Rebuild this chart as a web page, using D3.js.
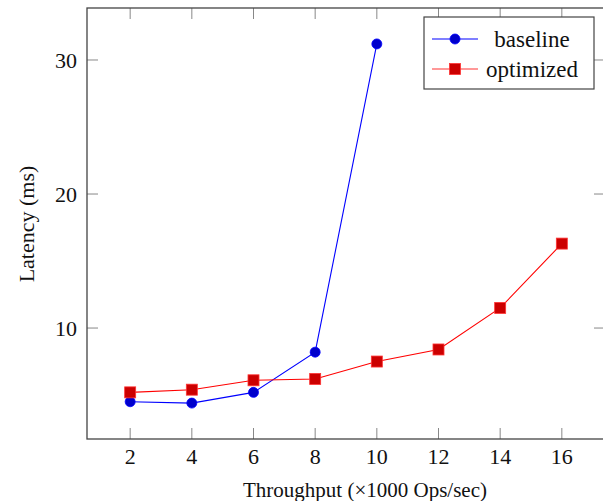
<!DOCTYPE html>
<html>
<head>
<meta charset="utf-8">
<script src="https://cdn.jsdelivr.net/npm/d3@7"></script>
<style>
  body { margin: 0; background: #fff; }
  svg text { font-family: "Liberation Serif", "DejaVu Serif", serif; fill: #111; }
</style>
</head>
<body>
<svg id="chart" width="603" height="501"></svg>
<script>
// Data
const throughput = [2, 4, 6, 8, 10, 12, 14, 16];
const baseline = [4.5, 4.4, 5.2, 8.2, 31.2];
const optimized = [5.2, 5.4, 6.1, 6.2, 7.5, 8.4, 11.5, 16.3];
const xTicks = [2, 4, 6, 8, 10, 12, 14, 16];
const yTicks = [10, 20, 30];
const seriesNames = ["baseline", "optimized"];

const margin = { top: 8, right: -2, bottom: 62, left: 87 };
const width = 603 - margin.left - margin.right;
const height = 501 - margin.top - margin.bottom;

const svg = d3.select("#chart");
const g = svg.append("g").attr("transform", `translate(${margin.left},${margin.top})`);

const x = d3.scaleLinear().domain([0.6, 17.4]).range([0, width]);
const y = d3.scaleLinear().domain([1.72, 33.88]).range([height, 0]);

// tick marks (inside, on all four sides)
const tickLen = 11;
xTicks.forEach(t => {
    g.append("line").attr("x1", x(t)).attr("x2", x(t)).attr("y1", height).attr("y2", height - tickLen)
        .attr("stroke", "#888").attr("stroke-width", 1);
    g.append("line").attr("x1", x(t)).attr("x2", x(t)).attr("y1", 0).attr("y2", tickLen)
        .attr("stroke", "#888").attr("stroke-width", 1);
    g.append("text").attr("x", x(t)).attr("y", height + 25)
        .attr("text-anchor", "middle").style("font-size", "22px").text(t);
});
yTicks.forEach(t => {
    g.append("line").attr("x1", 0).attr("x2", tickLen).attr("y1", y(t)).attr("y2", y(t))
        .attr("stroke", "#888").attr("stroke-width", 1);
    g.append("line").attr("x1", width).attr("x2", width - tickLen).attr("y1", y(t)).attr("y2", y(t))
        .attr("stroke", "#888").attr("stroke-width", 1);
    g.append("text").attr("x", -10).attr("y", y(t)).attr("dy", "0.35em")
        .attr("text-anchor", "end").style("font-size", "22px").text(t);
});

// frame
g.append("rect").attr("x", 0).attr("y", 0).attr("width", width).attr("height", height)
    .attr("fill", "none").attr("stroke", "#444").attr("stroke-width", 1.3);

const line = d3.line().x(d => x(d[0])).y(d => y(d[1]));

// baseline series
const basePts = baseline.map((v, i) => [throughput[i], v]);
g.append("path").datum(basePts).attr("d", line)
    .attr("fill", "none").attr("stroke", "#0000ff").attr("stroke-width", 1.1);
g.selectAll(".base").data(basePts).enter().append("circle")
    .attr("cx", d => x(d[0])).attr("cy", d => y(d[1])).attr("r", 5)
    .attr("fill", "#0000cc").attr("stroke", "#0000ff").attr("stroke-width", 0.8);

// optimized series
const optPts = optimized.map((v, i) => [throughput[i], v]);
g.append("path").datum(optPts).attr("d", line)
    .attr("fill", "none").attr("stroke", "#ff0000").attr("stroke-width", 1.1);
const s = 11;
g.selectAll(".opt").data(optPts).enter().append("rect")
    .attr("x", d => x(d[0]) - s / 2).attr("y", d => y(d[1]) - s / 2)
    .attr("width", s).attr("height", s)
    .attr("fill", "#cc0000").attr("stroke", "#ff3333").attr("stroke-width", 0.8);

// axis labels
svg.append("text").attr("x", 365).attr("y", 497).attr("text-anchor", "middle")
    .style("font-size", "21px").text("Throughput (\u00d71000 Ops/sec)");
svg.append("text").attr("transform", `translate(34,224) rotate(-90)`).attr("text-anchor", "middle")
    .style("font-size", "22px").text("Latency (ms)");

// legend
const legend = svg.append("g").attr("transform", "translate(424,17)");
legend.append("rect").attr("width", 170).attr("height", 72)
    .attr("fill", "#fff").attr("stroke", "#444").attr("stroke-width", 1.2);
seriesNames.forEach((name, i) => {
    const ly = 22 + i * 30;
    const col = i === 0 ? "#0000ff" : "#ff3333";
    legend.append("line").attr("x1", 8).attr("x2", 54).attr("y1", ly).attr("y2", ly)
        .attr("stroke", col).attr("stroke-width", 1.1);
    if (i === 0) {
        legend.append("circle").attr("cx", 31).attr("cy", ly).attr("r", 5)
            .attr("fill", "#0000cc").attr("stroke", "#0000ff").attr("stroke-width", 0.8);
    } else {
        legend.append("rect").attr("x", 31 - s / 2).attr("y", ly - s / 2).attr("width", s).attr("height", s)
            .attr("fill", "#cc0000").attr("stroke", "#ff3333").attr("stroke-width", 0.8);
    }
    legend.append("text").attr("x", 108).attr("y", ly).attr("dy", "0.33em")
        .attr("text-anchor", "middle").style("font-size", "23px").text(name);
});
</script>
</body>
</html>
